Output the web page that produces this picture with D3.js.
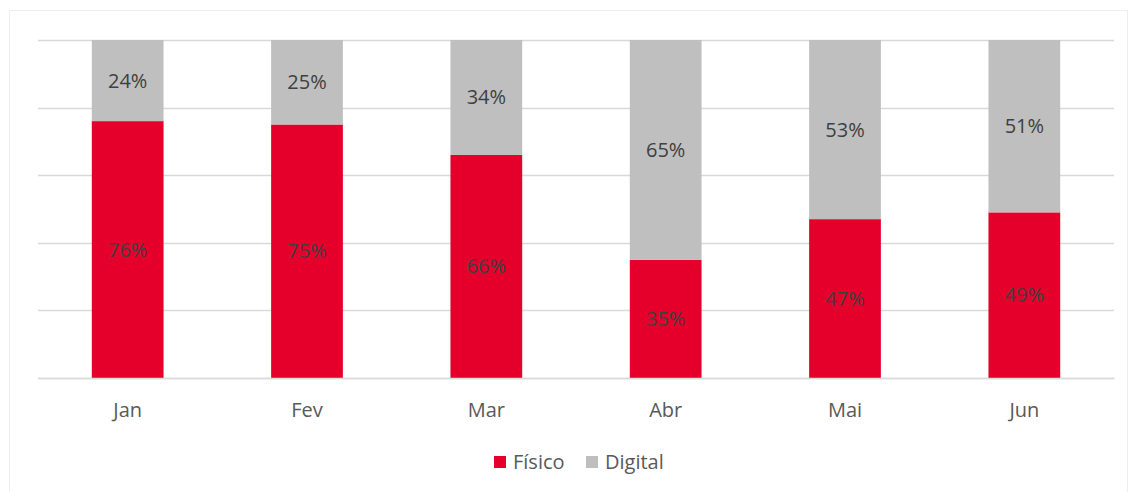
<!DOCTYPE html>
<html>
<head>
<meta charset="utf-8">
<script src="https://cdn.jsdelivr.net/npm/d3@7"></script>
<style>
  body { margin: 0; background: #fff; }
  text { font-family: "Open Sans", "Noto Sans", sans-serif; }
</style>
</head>
<body>
<svg width="1129" height="492"></svg>
<script>
var months = ["Jan", "Fev", "Mar", "Abr", "Mai", "Jun"];
var fisico = [76, 75, 66, 35, 47, 49];
var digital = [24, 25, 34, 65, 53, 51];
var seriesNames = ["Físico", "Digital"];
var seriesColors = ["#e4002b", "#bfbfbf"];

var svg = d3.select("svg"),
    margin = {top: 40, right: 15, bottom: 114, left: 38},
    width = +svg.attr("width") - margin.left - margin.right,
    height = +svg.attr("height") - margin.top - margin.bottom;

// chart border
svg.append("rect")
    .attr("x", 9.5).attr("y", 10.5)
    .attr("width", 1118).attr("height", 490)
    .attr("fill", "none")
    .attr("stroke", "#eeeeee");

var data = months.map(function(m, i) {
  return {month: m, "Físico": fisico[i], "Digital": digital[i]};
});

var stack = d3.stack().keys(seriesNames);
var layers = stack(data);

var x = d3.scaleBand().domain(months).range([0, width]).paddingInner(0.6).paddingOuter(0.3),
    y = d3.scaleLinear().domain([0, 100]).range([height, 0]);

var g = svg.append("g")
    .attr("transform", "translate(" + margin.left + "," + margin.top + ")");

// gridlines
g.append("g")
    .selectAll("line")
    .data(y.ticks(5))
    .enter().append("line")
    .attr("x1", 0).attr("x2", width)
    .attr("y1", function(d) { return Math.round(y(d)) + 0.5; })
    .attr("y2", function(d) { return Math.round(y(d)) + 0.5; })
    .attr("stroke", "#d9d9d9")
    .attr("stroke-width", 1.5);

var layer = g.selectAll(".layer")
    .data(layers)
    .enter().append("g")
    .attr("class", "layer")
    .attr("fill", function(d, i) { return seriesColors[i]; });

layer.selectAll("rect")
    .data(function(d) { return d; })
    .enter().append("rect")
    .attr("x", function(d) { return x(d.data.month); })
    .attr("y", function(d) { return y(d[1]); })
    .attr("width", x.bandwidth())
    .attr("height", function(d) { return y(d[0]) - y(d[1]); });

layer.selectAll("text")
    .data(function(d) { return d; })
    .enter().append("text")
    .attr("x", function(d) { return x(d.data.month) + x.bandwidth() / 2; })
    .attr("y", function(d) { return (y(d[0]) + y(d[1])) / 2; })
    .attr("dy", "0.35em")
    .attr("text-anchor", "middle")
    .attr("fill", "#404040")
    .style("font-size", "20px")
    .text(function(d) { return (d[1] - d[0]) + "%"; });

// x axis
var xAxis = g.append("g")
    .attr("transform", "translate(0," + height + ")")
    .call(d3.axisBottom(x).tickSize(0).tickPadding(25));
xAxis.select(".domain").attr("stroke", "#d9d9d9").attr("stroke-width", 1.5);
xAxis.selectAll("text")
    .attr("fill", "#595959")
    .style("font-size", "20px")
    .style("font-family", "'Open Sans', sans-serif");

// legend
var legend = svg.append("g").attr("transform", "translate(494,462)");
var legendX = [0, 92];
seriesNames.forEach(function(name, i) {
  var lg = legend.append("g").attr("transform", "translate(" + legendX[i] + ",0)");
  lg.append("rect")
      .attr("x", 0).attr("y", -6)
      .attr("width", 12).attr("height", 12)
      .attr("fill", seriesColors[i]);
  lg.append("text")
      .attr("x", 19).attr("y", 0)
      .attr("dy", "0.35em")
      .attr("fill", "#595959")
      .style("font-size", "20px")
      .text(name);
});
</script>
</body>
</html>
